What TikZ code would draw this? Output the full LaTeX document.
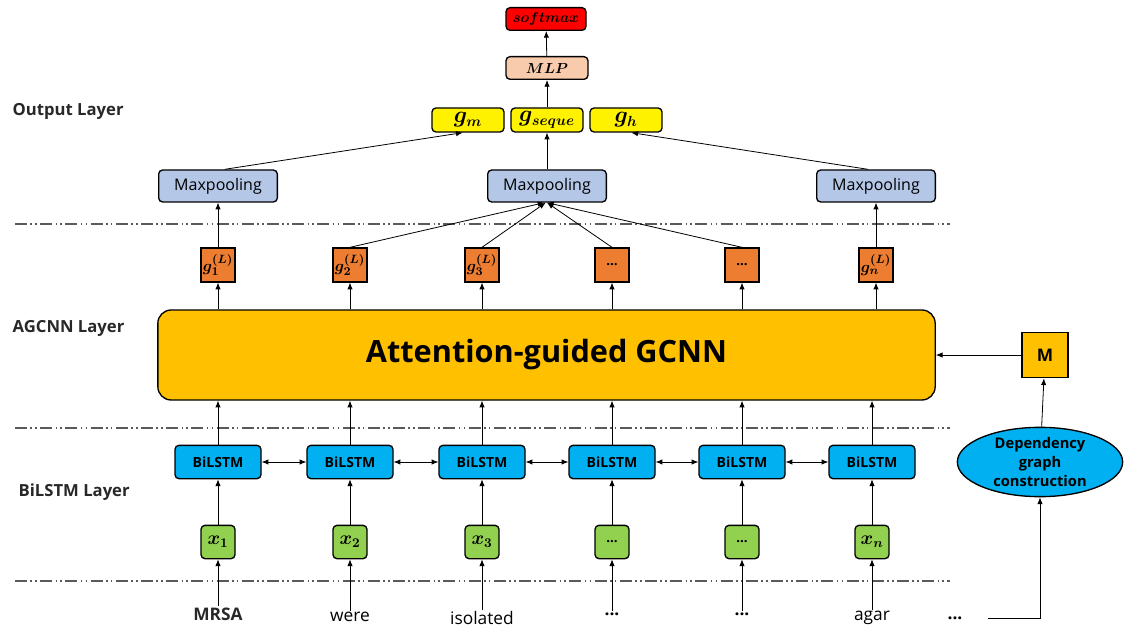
\documentclass[tikz,border=0pt]{standalone}
\usepackage{fontspec}
\usepackage{bm}
\setmainfont{Open Sans}
\usetikzlibrary{arrows.meta,shapes.geometric}
\definecolor{poolblue}{RGB}{180,199,231}
\definecolor{gorange}{RGB}{237,125,49}
\definecolor{agyellow}{RGB}{255,192,0}
\definecolor{lstmblue}{RGB}{0,176,240}
\definecolor{xgreen}{RGB}{146,208,80}
\definecolor{mlppeach}{RGB}{248,203,173}
\definecolor{sepgray}{RGB}{90,90,90}
\definecolor{labelgray}{RGB}{40,40,40}
\tikzset{
  box/.style={draw, line width=1pt, rounded corners=3pt, inner sep=0pt},
  poolbox/.style={box, fill=poolblue, minimum width=89pt, minimum height=24pt, font=\fontsize{12}{14}\selectfont},
  gbox/.style={draw, line width=1pt, fill=gorange, minimum width=25.5pt, minimum height=25.5pt, inner sep=0pt, font=\fontsize{13}{14}\selectfont},
  lstmbox/.style={box, fill=lstmblue, minimum width=64.5pt, minimum height=25pt, font=\fontsize{10.5}{12}\selectfont\bfseries},
  xbox/.style={box, fill=xgreen, minimum width=25.5pt, minimum height=25pt, font=\fontsize{14}{15}\selectfont},
  outbox/.style={box, fill=yellow, minimum width=54pt, minimum height=18pt, font=\fontsize{16}{17}\selectfont},
  word/.style={font=\fontsize{13}{15}\selectfont, inner sep=1pt},
  layer/.style={anchor=west, text=labelgray, font=\fontsize{12.5}{15}\selectfont\bfseries},
  arr/.style={-{Latex[length=5pt,width=4pt]}, line width=0.6pt},
  darr/.style={{Latex[length=5pt,width=4pt]}-{Latex[length=5pt,width=4pt]}, line width=0.6pt},
  sep/.style={sepgray, line width=0.9pt, dash pattern=on 9pt off 2.5pt on 1.2pt off 2.5pt on 1.2pt off 2.5pt},
}
\begin{document}
\begin{tikzpicture}[x=0.75pt,y=-0.75pt]
        \useasboundingbox (0,0) rectangle (1126,630);
        % layer separators
        \draw[sep] (15,224) -- (950,224);
        \draw[sep] (15,428) -- (950,428);
        \draw[sep] (15,581) -- (950,581);
        % layer names
        \node[layer] at (8,111) {Output Layer};
        \node[layer] at (8,328) {AGCNN Layer};
        \node[layer] at (14,492) {BiLSTM Layer};
        % output part
        \node[box, fill=red, minimum width=60pt, minimum height=17pt, font=\fontsize{11}{12}\selectfont] (soft) at (546,19) {$\bm{softmax}$};
        \node[box, fill=mlppeach, minimum width=61.5pt, minimum height=17pt, font=\fontsize{11}{12}\selectfont] (mlp) at (547,68) {$\bm{MLP}$};
        \node[outbox] (gm) at (468,120) {$\bm{g_m}$};
        \node[outbox] (gs) at (547,120) {$\bm{g_{seque}}$};
        \node[outbox] (gh) at (626,120) {$\bm{g_h}$};
        \node[poolbox] (mp1) at (218,186) {Maxpooling};
        \node[poolbox] (mp2) at (547,186) {Maxpooling};
        \node[poolbox] (mp3) at (876,186) {Maxpooling};
        % AGCNN outputs
        \node[gbox] (g1) at (218,265) {$\bm{g^{(L)}_1}$};
        \node[gbox] (g2) at (350,265) {$\bm{g^{(L)}_2}$};
        \node[gbox] (g3) at (482,265) {$\bm{g^{(L)}_3}$};
        \node[gbox, font=\fontsize{10}{12}\selectfont] (g4) at (612,265) {\textbf{...}};
        \node[gbox, font=\fontsize{10}{12}\selectfont] (g5) at (742,265) {\textbf{...}};
        \node[gbox] (g6) at (876,265) {$\bm{g^{(L)}_n}$};
        % AGCNN
        \node[box, fill=agyellow, rounded corners=10pt, minimum width=583pt, minimum height=67.5pt, font=\fontsize{23}{26}\selectfont\bfseries] (ag) at (546.5,355) {Attention-guided GCNN};
        \node[draw, line width=1pt, fill=agyellow, minimum width=34.5pt, minimum height=34pt, inner sep=0pt, font=\fontsize{13}{14}\selectfont\bfseries] (m) at (1045,355) {M};
        \node[draw, ellipse, line width=1pt, fill=lstmblue, minimum width=124pt, minimum height=52pt, inner sep=0pt, align=center, font=\fontsize{11}{14}\selectfont\bfseries] (dep) at (1040,462) {Dependency\\graph\\construction};
        % BiLSTM
        \node[lstmbox] (b1) at (218,462) {BiLSTM};
        \node[lstmbox] (b2) at (350,462) {BiLSTM};
        \node[lstmbox] (b3) at (482,462) {BiLSTM};
        \node[lstmbox] (b4) at (612,462) {BiLSTM};
        \node[lstmbox] (b5) at (742,462) {BiLSTM};
        \node[lstmbox] (b6) at (872,462) {BiLSTM};
        % inputs
        \node[xbox] (x1) at (218,542) {$\bm{x_1}$};
        \node[xbox] (x2) at (350,542) {$\bm{x_2}$};
        \node[xbox] (x3) at (482,542) {$\bm{x_3}$};
        \node[xbox, font=\fontsize{10}{12}\selectfont] (x4) at (612,542) {\textbf{...}};
        \node[xbox, font=\fontsize{10}{12}\selectfont] (x5) at (742,542) {\textbf{...}};
        \node[xbox] (x6) at (872,542) {$\bm{x_n}$};
        % words
        \node[word, text=labelgray, font=\fontsize{13}{15}\selectfont\bfseries] (w1) at (218,614) {MRSA};
        \node[word] (w2) at (350,617) {were};
        \node[word] (w3) at (482,618) {isolated};
        \node[word] (w4) at (612,614) {\textbf{...}};
        \node[word] (w5) at (742,614) {\textbf{...}};
        \node[word] (w6) at (872,618) {agar};
        \node[word] (w7) at (955,618) {\textbf{...}};
        % connectors
        \draw[arr] (mlp) -- (soft);
        \draw[arr] (gs) -- (mlp);
        \draw[arr] ([xshift=5pt]mp1.north) -- ([xshift=-4pt]gm.south);
        \draw[arr] (mp2) -- (gs);
        \draw[arr] ([xshift=-6pt]mp3.north) -- ([xshift=4pt]gh.south);
        \draw[arr] (g1) -- (mp1);
        \draw[arr] (g2.north) -- ([xshift=-2pt]mp2.south);
        \draw[arr] (g3.north) -- ([xshift=-1pt]mp2.south);
        \draw[arr] (g4.north) -- (mp2.south);
        \draw[arr] (g5.north) -- (mp2.south);
        \draw[arr] (g6) -- (mp3);
        \draw[arr] (g1.south |- ag.north) -- (g1);
        \draw[arr] (g2.south |- ag.north) -- (g2);
        \draw[arr] (g3.south |- ag.north) -- (g3);
        \draw[arr] (g4.south |- ag.north) -- (g4);
        \draw[arr] (g5.south |- ag.north) -- (g5);
        \draw[arr] (g6.south |- ag.north) -- (g6);
        \draw[arr] (b1) -- (b1.north |- ag.south);
        \draw[arr] (b2) -- (b2.north |- ag.south);
        \draw[arr] (b3) -- (b3.north |- ag.south);
        \draw[arr] (b4) -- (b4.north |- ag.south);
        \draw[arr] (b5) -- (b5.north |- ag.south);
        \draw[arr] (b6) -- (b6.north |- ag.south);
        \draw[arr] (m) -- (ag);
        \draw[arr] (dep) -- (m);
        \draw[darr] (b1) -- (b2);
        \draw[darr] (b2) -- (b3);
        \draw[darr] (b3) -- (b4);
        \draw[darr] (b4) -- (b5);
        \draw[darr] (b5) -- (b6);
        \draw[arr] (x1) -- (b1);
        \draw[arr] (x2) -- (b2);
        \draw[arr] (x3) -- (b3);
        \draw[arr] (x4) -- (b4);
        \draw[arr] (x5) -- (b5);
        \draw[arr] (x6) -- (b6);
        \draw[arr] (w1) -- (x1);
        \draw[arr] (w2) -- (x2);
        \draw[arr] (w3) -- (x3);
        \draw[arr] (w4) -- (x4);
        \draw[arr] (w5) -- (x5);
        \draw[arr] (w6) -- (x6);
        \draw[arr, shorten <=18pt] (w7.east) -| (dep.south);
    \end{tikzpicture}
\end{document}
